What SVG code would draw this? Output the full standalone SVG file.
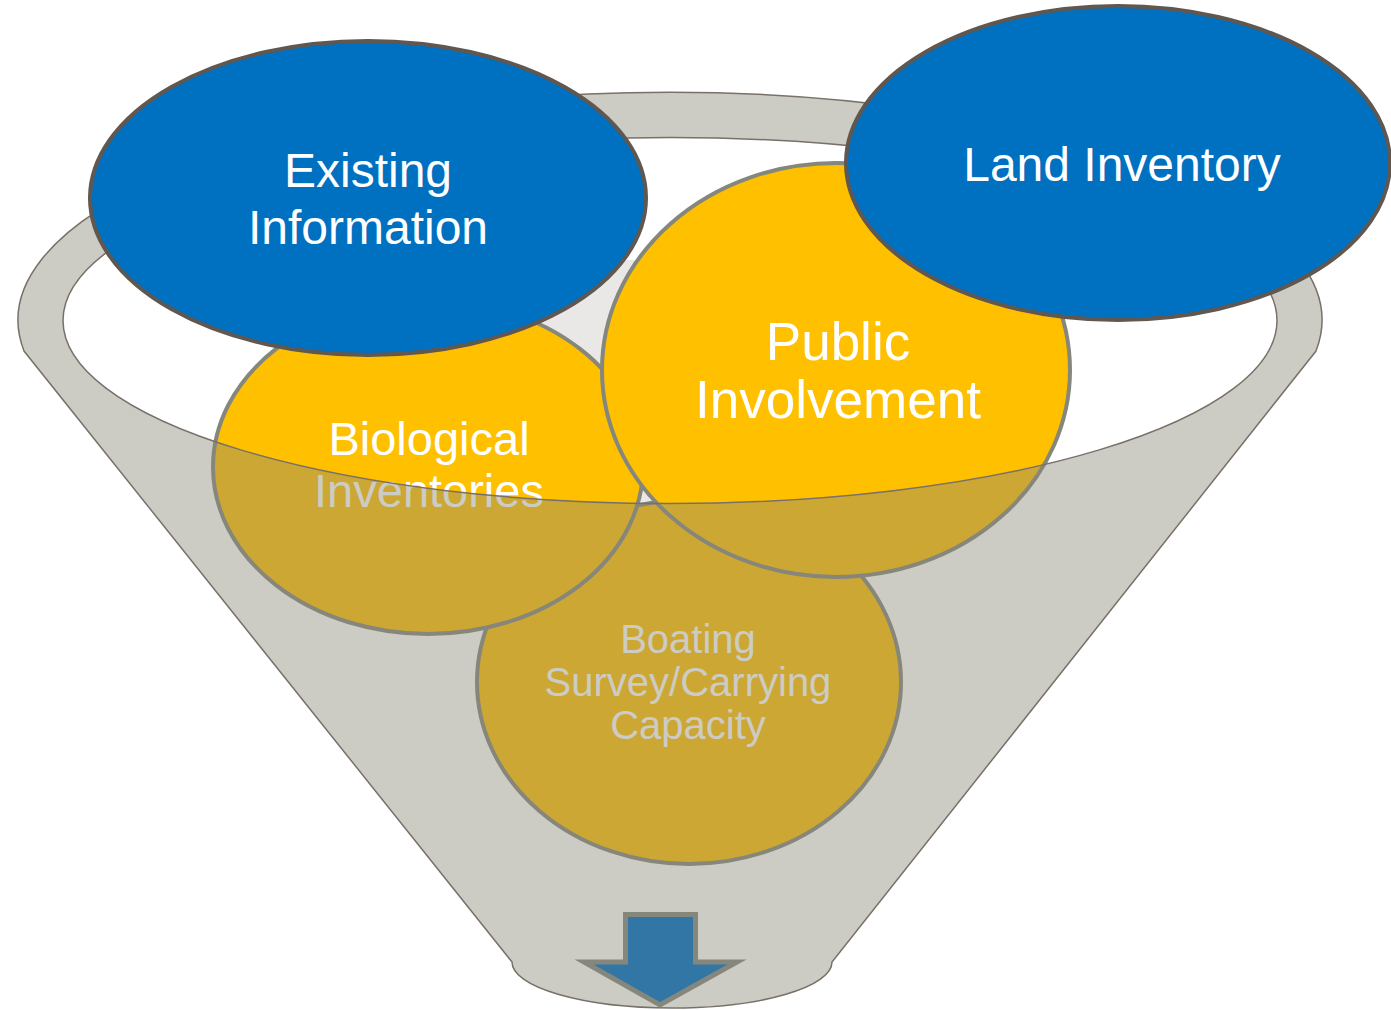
<svg xmlns="http://www.w3.org/2000/svg" width="1391" height="1010" viewBox="0 0 1391 1010">
<style>
.blue{fill:#0070c0;stroke:#5f5750;stroke-width:4}
.yel{fill:#ffc000;stroke:#85877d;stroke-width:4}
.lbl{font-family:"Liberation Sans",Arial,sans-serif;fill:#ffffff;text-anchor:middle}
.edge{fill:none;stroke:#7a706a;stroke-width:1.5}
</style>
<defs>
<clipPath id="inner"><ellipse cx="670" cy="320.5" rx="607" ry="183"/></clipPath>
</defs>
<rect width="1391" height="1010" fill="#ffffff"/>
<g id="funnel-back">
<rect x="290" y="260" width="750" height="260" fill="#e9e8e6" clip-path="url(#inner)"/>
</g>
<g id="boating">
<ellipse class="yel" cx="689" cy="682" rx="212" ry="182"/>
<text class="lbl" font-size="40" x="688" y="653">Boating</text>
<text class="lbl" font-size="40" x="688" y="696">Survey/Carrying</text>
<text class="lbl" font-size="40" x="688" y="739">Capacity</text>
</g>
<g id="biological">
<ellipse class="yel" cx="428" cy="467" rx="215" ry="167"/>
<text class="lbl" font-size="47" x="429" y="455">Biological</text>
<text class="lbl" font-size="47" x="429" y="507">Inventories</text>
</g>
<g id="public">
<ellipse class="yel" cx="836" cy="370" rx="234" ry="207"/>
<text class="lbl" font-size="53" x="838" y="360">Public</text>
<text class="lbl" font-size="53" x="838" y="418">Involvement</text>
</g>
<g id="funnel-front">
<path d="M24,351 A652,228 0 1 1 1316,351 L832,962 A160,46 0 0 1 512,962 Z M63,320.5 A607,183 0 1 0 1277,320.5 A607,183 0 1 0 63,320.5 Z" fill="#888777" fill-opacity="0.43" fill-rule="evenodd"/>
<path class="edge" d="M24,351 A652,228 0 1 1 1316,351 L832,962 A160,46 0 0 1 512,962 Z"/>
<ellipse class="edge" cx="670" cy="320.5" rx="607" ry="183"/>
</g>
<g id="existing">
<ellipse class="blue" cx="368" cy="198" rx="278" ry="157"/>
<text class="lbl" font-size="48" x="368" y="187">Existing</text>
<text class="lbl" font-size="48" x="368" y="244">Information</text>
</g>
<g id="land">
<ellipse class="blue" cx="1118" cy="163" rx="272" ry="157"/>
<text class="lbl" font-size="48" x="1122" y="181">Land Inventory</text>
</g>
<g id="connectors">
<path d="M625.5,914.5 H695.5 V962 H737 L660,1005 L584,962 H625.5 Z" fill="#3276a6" stroke="#85877d" stroke-width="5" stroke-linejoin="miter"/>
</g>
</svg>
